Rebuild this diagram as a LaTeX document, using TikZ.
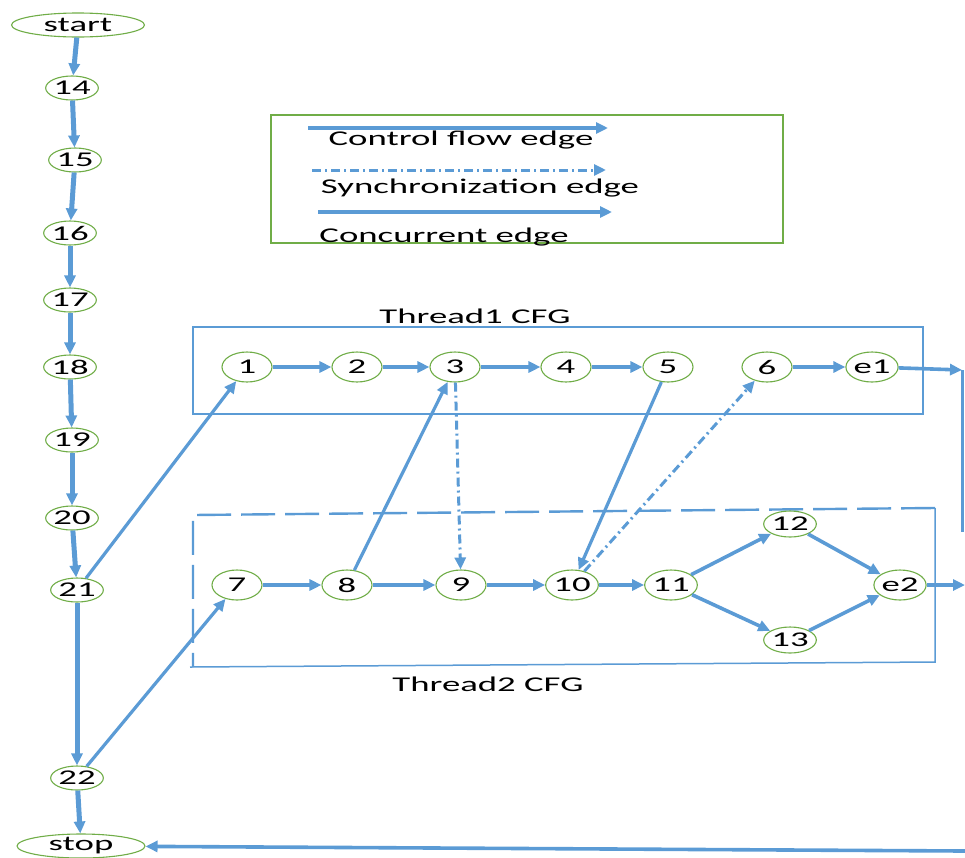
\documentclass[tikz,border=0pt]{standalone}
\usepackage{fontspec}
\setmainfont{Carlito}[FakeStretch=1.75]
\usetikzlibrary{positioning,arrows.meta,shapes.geometric}
\definecolor{edgeblue}{RGB}{91,155,213}
\definecolor{nodegreen}{RGB}{112,173,71}

\begin{document}
\begin{tikzpicture}[x=1pt, y=-1pt,
    every node/.style={font=\fontsize{21}{23}\selectfont},
    cfgnode/.style={ellipse,draw=nodegreen,line width=1.1pt,fill=white,inner sep=0pt,minimum width=50pt,minimum height=30pt},
    spinenode/.style={cfgnode,minimum width=44pt,minimum height=24pt},
    tip/.style={-{Triangle[length=12pt,width=11pt]}},
    spine/.style={edgeblue,line width=5pt,tip},
    flow/.style={edgeblue,line width=3.6pt,tip},
    concur/.style={edgeblue,line width=3.2pt,tip},
    sync/.style={edgeblue,line width=3pt,dash pattern=on 9pt off 4pt on 2pt off 4pt,tip},
    threadbox/.style={edgeblue,line width=1.5pt}]
\useasboundingbox (0,0) rectangle (965,857);

% main thread
\node[spinenode,minimum width=133pt] (start) at (78,25) {start};
\foreach \i/\x/\y in {14/72/88,15/75/160,16/70/233,17/70/300,18/70/367,19/72/440,20/72/518,22/77/778} {
    \node[spinenode] (n\i) at (\x,\y) {\i};
}
\node[spinenode,minimum width=50pt] (n21) at (77,590) {21};
\node[spinenode,minimum width=128pt] (stop) at (81,846) {stop};
\foreach \a/\b in {start/n14,n14/n15,n15/n16,n16/n17,n17/n18,n18/n19,n19/n20,n20/n21,n21/n22,n22/stop} {
    \draw[spine] (\a) -- (\b);
}

% Legend
\node[draw=nodegreen,line width=1.8pt,minimum width=512pt,minimum height=128pt] (legend) at (527,179) {};
\draw[flow] (308,128) -- (608,128);
\node (lflow) at (461,140) {Control flow edge};
\draw[sync] (312,170) -- (606,170);
\node (lsync) at (480,188) {Synchronization edge};
\draw[concur] (318,212) -- (612,212);
\node (lconc) at (444,237) {Concurrent edge};

% Thread1 CFG
\draw[threadbox] (193,327) rectangle (923,414);
\node (t1label) at (475,316) {Thread1 CFG};
\foreach \i/\x in {1/247,2/357,3/455,4/566,5/668,6/767,e1/872} {
    \node[cfgnode] (n\i) at (\x,367) {\i};
}

% Thread2 CFG
\draw[threadbox,line width=2.4pt,dash pattern=on 34pt off 10pt] (935,508) -- (193,515) -- (193,667);
\draw[threadbox] (190,667) -- (935,662) -- (935,508);
\node (t2label) at (488,684) {Thread2 CFG};
\foreach \i/\x in {7/237,8/347,9/461,10/572,11/671,e2/900} {
    \node[cfgnode] (n\i) at (\x,585) {\i};
}
\node[cfgnode,minimum width=46pt,minimum height=26pt] (n12) at (790,524) {12};
\node[cfgnode,minimum width=46pt,minimum height=26pt] (n13) at (790,640) {13};

% Control flow edges
\foreach \a/\b in {n1/n2,n2/n3,n3/n4,n4/n5,n6/ne1,n7/n8,n8/n9,n9/n10,n10/n11,n11/n12,n11/n13,n12/ne2,n13/ne2} {
    \draw[flow] (\a) -- (\b);
}

% Concurrent and synchronization edges
\foreach \a/\b in {n21/n1,n22/n7,n8/n3,n5/n10} {
    \draw[concur] (\a) -- (\b);
}
\draw[sync] (n3) -- (n9);
\draw[sync] (n10) -- (n6);

% Exits to stop
\coordinate (r1) at (962,370);
\coordinate (r1b) at (962,532);
\coordinate (r2) at (965,585);
\coordinate (r3) at (965,851);
\draw[flow] (ne1) -- (r1);
\draw[edgeblue,line width=3pt] (r1) -- (r1b);
\draw[flow] (ne2) -- (r2);
\draw[flow] (r3) -- (stop);
\end{tikzpicture}
\end{document}
